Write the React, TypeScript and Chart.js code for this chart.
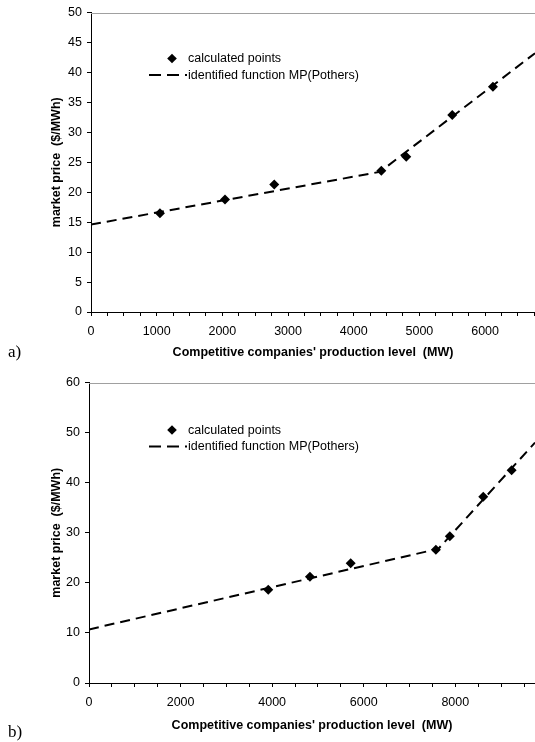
import React, { useEffect, useRef } from "react";
import { Chart, registerables } from "chart.js";

Chart.register(...registerables);

// ---------- data: panel a) ----------
const aPointsX = [1050, 2040, 2790, 4420, 4800, 5500, 6120];
const aPointsY = [16.5, 18.8, 21.3, 23.6, 25.9, 32.9, 37.6];
const aLineX = [0, 4400, 6760];
const aLineY = [14.6, 23.4, 43.2];
const aXMax = 6760;
const aYMax = 50;
const aYStep = 5;
const aXMinorStep = 250;
const aXLabelStep = 1000;

// ---------- data: panel b) ----------
const bPointsX = [3915, 4825, 5715, 7575, 7880, 8610, 9230];
const bPointsY = [18.6, 21.2, 23.9, 26.6, 29.3, 37.2, 42.5];
const bLineX = [0, 7630, 9740];
const bLineY = [10.7, 26.8, 48.0];
const bXMax = 9740;
const bYMax = 60;
const bYStep = 10;
const bXMinorStep = 500;
const bXLabelStep = 2000;

// ---------- text ----------
const pointsLabel = "calculated points";
const lineLabel = "identified function MP(Pothers)";
const xTitle = "Competitive companies' production level  (MW)";
const yTitle = "market price  ($/MWh)";

const FONT = "'Liberation Sans', Arial, Helvetica, sans-serif";
const FS = 12.5;

const decorPlugin = {
  id: "decor",
  afterDraw(chart: any, _args: any, opts: any) {
    const ctx = chart.ctx as CanvasRenderingContext2D;
    const { left, right, top } = chart.chartArea;
    ctx.save();
    // top frame line (gray)
    ctx.strokeStyle = "#a0a0a0";
    ctx.lineWidth = 1;
    ctx.beginPath();
    ctx.moveTo(left, Math.round(top) + 0.5);
    ctx.lineTo(right, Math.round(top) + 0.5);
    ctx.stroke();

    // legend
    const ds = chart.data.datasets;
    const { mx, my, tx, gap } = opts;
    ctx.font = `${FS}px ${FONT}`;
    ctx.fillStyle = "#000";
    ctx.textBaseline = "middle";
    ctx.textAlign = "left";
    const r = 4.8;
    ctx.beginPath();
    ctx.moveTo(mx, my - r);
    ctx.lineTo(mx + r, my);
    ctx.lineTo(mx, my + r);
    ctx.lineTo(mx - r, my);
    ctx.closePath();
    ctx.fill();
    ctx.fillText(ds[0].label, tx, my + 0.5);
    const y2 = my + gap;
    ctx.strokeStyle = "#000";
    ctx.lineWidth = 2;
    ctx.setLineDash([12, 6]);
    ctx.beginPath();
    ctx.moveTo(tx - 39, y2);
    ctx.lineTo(tx - 1, y2);
    ctx.stroke();
    ctx.setLineDash([]);
    ctx.fillText(ds[1].label, tx, y2 + 0.5);
    ctx.restore();
  },
};

type PanelProps = {
  top: number;
  height: number;
  areaTop: number;
  areaBottom: number;
  axisLeft: number;
  px: number[];
  py: number[];
  lx: number[];
  ly: number[];
  xMax: number;
  yMax: number;
  yStep: number;
  xMinor: number;
  xLabel: number;
  legendY: number;
  titlePad: number;
};

function Panel(p: PanelProps) {
  const ref = useRef<HTMLCanvasElement>(null);
  useEffect(() => {
    if (!ref.current) return;
    const tickFont = { family: FONT, size: FS };
    const titleFont = { family: FONT, size: FS, weight: "bold" as const };
    const chart = new Chart(ref.current, {
      type: "scatter",
      data: {
        datasets: [
          {
            label: pointsLabel,
            data: p.px.map((x, i) => ({ x, y: p.py[i] })),
            showLine: false,
            pointStyle: "rectRot",
            pointRadius: 5,
            pointBackgroundColor: "#000",
            pointBorderColor: "#000",
            pointBorderWidth: 0,
            order: 0,
          },
          {
            label: lineLabel,
            data: p.lx.map((x, i) => ({ x, y: p.ly[i] })),
            showLine: true,
            borderColor: "#000",
            borderWidth: 2,
            borderDash: [10, 6],
            pointRadius: 0,
            fill: false,
            tension: 0,
            order: 1,
          } as any,
        ],
      },
      options: {
        animation: false,
        responsive: false,
        maintainAspectRatio: false,
        events: [],
        layout: {
          autoPadding: false,
          padding: { top: p.areaTop, left: 0, right: 0, bottom: 0 },
        },
        plugins: {
          legend: { display: false },
          tooltip: { enabled: false },
          decor: { mx: 172, my: p.legendY, tx: 188, gap: 16.5 },
        } as any,
        scales: {
          x: {
            type: "linear",
            min: 0,
            max: p.xMax,
            afterBuildTicks: (s: any) => {
              const t: { value: number }[] = [];
              for (let v = 0; v <= p.xMax; v += p.xMinor) t.push({ value: v });
              s.ticks = t;
            },
            ticks: {
              autoSkip: false,
              maxRotation: 0,
              padding: 8,
              color: "#000",
              font: tickFont,
              callback: (v: any) => {
                const val = Math.round(Number(v));
                return val % p.xLabel === 0 ? String(val) : "";
              },
            },
            grid: { drawOnChartArea: false, tickLength: 4, color: "#000" },
            border: { color: "#000", width: 1 },
            title: {
              display: true,
              text: xTitle,
              color: "#000",
              font: titleFont,
              padding: { top: 0, bottom: p.titlePad },
            },
            afterFit: (s: any) => {
              s.height = p.height - p.areaBottom;
              s.paddingRight = 0;
            },
          },
          y: {
            type: "linear",
            min: 0,
            max: p.yMax,
            ticks: {
              stepSize: p.yStep,
              padding: 5,
              color: "#000",
              font: tickFont,
            },
            grid: { drawOnChartArea: false, tickLength: 4, color: "#000" },
            border: { color: "#000", width: 1 },
            title: {
              display: true,
              text: yTitle,
              color: "#000",
              font: titleFont,
              padding: { top: 49.5, bottom: 0 },
            },
            afterFit: (s: any) => {
              s.width = p.axisLeft;
            },
          },
        },
      } as any,
      plugins: [decorPlugin],
    });
    return () => chart.destroy();
  }, []);
  return (
    <canvas
      ref={ref}
      width={535}
      height={p.height}
      style={{ position: "absolute", left: 0, top: p.top, width: 535, height: p.height }}
    />
  );
}

export default function App() {
  const labelStyle: React.CSSProperties = {
    position: "absolute",
    left: 8,
    fontFamily: "'Liberation Serif', 'Times New Roman', serif",
    fontSize: 17,
    lineHeight: "17px",
    color: "#000",
  };
  return (
    <div style={{ position: "absolute", left: 0, top: 0, width: 535, height: 742, background: "#fff", overflow: "hidden" }}>
      <Panel
        top={0}
        height={370}
        areaTop={10}
        areaBottom={312}
        axisLeft={91}
        px={aPointsX}
        py={aPointsY}
        lx={aLineX}
        ly={aLineY}
        xMax={aXMax}
        yMax={aYMax}
        yStep={aYStep}
        xMinor={aXMinorStep}
        xLabel={aXLabelStep}
        legendY={58.5}
        titlePad={10}
      />
      <div style={{ ...labelStyle, top: 343 }}>a)</div>
      <Panel
        top={370}
        height={372}
        areaTop={12}
        areaBottom={313}
        axisLeft={89}
        px={bPointsX}
        py={bPointsY}
        lx={bLineX}
        ly={bLineY}
        xMax={bXMax}
        yMax={bYMax}
        yStep={bYStep}
        xMinor={bXMinorStep}
        xLabel={bXLabelStep}
        legendY={60}
        titlePad={9}
      />
      <div style={{ ...labelStyle, top: 723 }}>b)</div>
    </div>
  );
}
